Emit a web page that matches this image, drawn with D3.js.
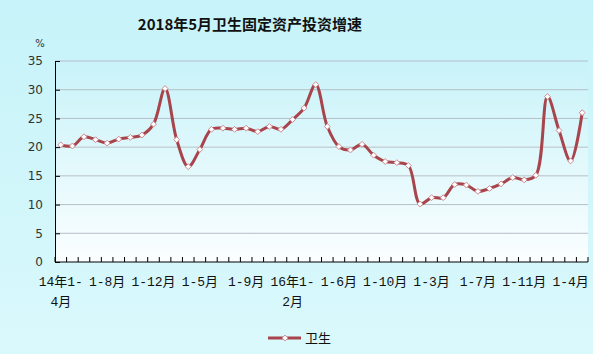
<!DOCTYPE html>
<html>
<head>
<meta charset="utf-8">
<script src="https://cdn.jsdelivr.net/npm/d3@7"></script>
<style>
  body { margin: 0; }
  svg { display: block; }
</style>
</head>
<body>
<div id="chart"></div>
<script>
const width = 593;
const height = 354;

const margin = { left: 55, right: 5, top: 61, bottom: 92 };

// 累计增速，2014年1-4月 到 2018年1-5月
const categories = [
    "2014年1-4月", "2014年1-5月", "2014年1-6月", "2014年1-7月", "2014年1-8月", "2014年1-9月",
    "2014年1-10月", "2014年1-11月", "2014年1-12月",
    "2015年1-2月", "2015年1-3月", "2015年1-4月", "2015年1-5月", "2015年1-6月", "2015年1-7月",
    "2015年1-8月", "2015年1-9月", "2015年1-10月", "2015年1-11月", "2015年1-12月",
    "2016年1-2月", "2016年1-3月", "2016年1-4月", "2016年1-5月", "2016年1-6月", "2016年1-7月",
    "2016年1-8月", "2016年1-9月", "2016年1-10月", "2016年1-11月", "2016年1-12月",
    "2017年1-2月", "2017年1-3月", "2017年1-4月", "2017年1-5月", "2017年1-6月", "2017年1-7月",
    "2017年1-8月", "2017年1-9月", "2017年1-10月", "2017年1-11月", "2017年1-12月",
    "2018年1-2月", "2018年1-3月", "2018年1-4月", "2018年1-5月"
];

const weisheng = [
    20.4, 20.2, 21.8, 21.3, 20.7, 21.4, 21.7, 22.1, 24.0,
    30.2, 21.3, 16.6, 19.6, 23.1, 23.3, 23.1, 23.3, 22.7, 23.6, 23.1,
    24.8, 26.8, 30.9, 23.6, 20.1, 19.5, 20.5, 18.6, 17.5, 17.3, 16.8,
    10.1, 11.2, 11.2, 13.5, 13.4, 12.3, 12.8, 13.6, 14.7, 14.3, 15.1,
    28.8, 22.9, 17.6, 26.0
];

// every 4th category gets a label
const xTickLabels = [
    ["14年1-", "4月"], ["1-8月"], ["1-12月"], ["1-5月"], ["1-9月"], ["16年1-", "2月"],
    ["1-6月"], ["1-10月"], ["1-3月"], ["1-7月"], ["1-11月"], ["1-4月"]
];

const yTicks = [0, 5, 10, 15, 20, 25, 30, 35];

const title = "2018年5月卫生固定资产投资增速";
const seriesName = "卫生";

const lineColor = "#a8444b";

let svg = d3.select("#chart")
    .append("svg")
    .attr("width", width)
    .attr("height", height);

let defs = svg.append("defs");

let bgGrad = defs.append("linearGradient")
    .attr("id", "bg").attr("x1", 0).attr("y1", 0).attr("x2", 0).attr("y2", 1);
bgGrad.append("stop").attr("offset", "0%").attr("stop-color", "#c6f3f9");
bgGrad.append("stop").attr("offset", "100%").attr("stop-color", "#daf9fc");

let plotGrad = defs.append("linearGradient")
    .attr("id", "plotbg").attr("x1", 0).attr("y1", 0).attr("x2", 0).attr("y2", 1);
plotGrad.append("stop").attr("offset", "0%").attr("stop-color", "#c8f3f9");
plotGrad.append("stop").attr("offset", "100%").attr("stop-color", "#fbfeff");

svg.append("rect")
    .attr("width", width).attr("height", height)
    .attr("fill", "url(#bg)");

let x = d3.scaleBand()
    .domain(categories)
    .range([margin.left, width - margin.right]);

let y = d3.scaleLinear()
    .domain([0, 35])
    .range([height - margin.bottom, margin.top]);

const cx = d => x(d) + x.bandwidth() / 2;

svg.append("rect")
    .attr("x", margin.left)
    .attr("y", margin.top)
    .attr("width", width - margin.right - margin.left)
    .attr("height", height - margin.bottom - margin.top)
    .attr("fill", "url(#plotbg)");

// grid
svg.selectAll(".grid")
    .data(yTicks.filter(d => d > 0))
    .join("line")
    .attr("class", "grid")
    .attr("x1", margin.left)
    .attr("x2", width - margin.right)
    .attr("y1", d => y(d))
    .attr("y2", d => y(d))
    .attr("stroke", "#b6bfc7")
    .attr("stroke-width", 1);

// y axis
let yAxis = svg.append("g")
    .attr("transform", `translate(${margin.left},0)`)
    .call(d3.axisLeft(y).tickValues(yTicks).tickSize(-5).tickPadding(12));
yAxis.select(".domain").attr("stroke", "#000");
yAxis.selectAll(".tick line").attr("stroke", "#000");
yAxis.selectAll("text")
    .attr("font-family", "'DejaVu Sans', sans-serif")
    .attr("font-size", 12)
    .attr("fill", "#333");

// x axis, ticks on category boundaries pointing inward
let xAxisG = svg.append("g");
xAxisG.append("line")
    .attr("x1", margin.left).attr("x2", width - margin.right)
    .attr("y1", y(0)).attr("y2", y(0))
    .attr("stroke", "#000");
xAxisG.selectAll(".xtick")
    .data(categories.map(c => x(c)).concat([x(categories[categories.length - 1]) + x.step()]))
    .join("line")
    .attr("class", "xtick")
    .attr("x1", d => d).attr("x2", d => d)
    .attr("y1", y(0)).attr("y2", y(0) - 5)
    .attr("stroke", "#000");

let xLabels = xAxisG.selectAll(".xlabel")
    .data(xTickLabels)
    .join("text")
    .attr("class", "xlabel")
    .attr("text-anchor", "middle")
    .attr("font-family", "'Liberation Mono', 'Noto Sans CJK SC', monospace")
    .attr("font-size", 13)
    .attr("fill", "#111");
xLabels.selectAll("tspan")
    .data((d, i) => d.map(t => ({ t: t, c: categories[i * 4] })))
    .join("tspan")
    .attr("x", d => cx(d.c))
    .attr("y", (d, j) => y(0) + 24 + j * 20)
    .text(d => d.t);

// % unit
svg.append("text")
    .attr("x", 40).attr("y", 47)
    .attr("text-anchor", "middle")
    .attr("font-family", "'DejaVu Sans', sans-serif")
    .attr("font-size", 10)
    .attr("fill", "#333")
    .text("%");

// title
svg.append("text")
    .attr("x", 250).attr("y", 30)
    .attr("text-anchor", "middle")
    .attr("font-family", "'Noto Sans CJK SC', sans-serif")
    .attr("font-weight", "bold")
    .attr("font-size", 15)
    .attr("fill", "#111")
    .text(title);

// line
let line = d3.line()
    .x((d, i) => cx(categories[i]))
    .y(d => y(d))
    .curve(d3.curveCatmullRom);

svg.append("path")
    .datum(weisheng)
    .attr("fill", "none")
    .attr("stroke", lineColor)
    .attr("stroke-width", 3)
    .attr("stroke-linejoin", "round")
    .attr("d", line);

const diamond = d3.symbol().type(d3.symbolDiamond2).size(22);

svg.selectAll(".pt")
    .data(weisheng)
    .join("path")
    .attr("class", "pt")
    .attr("transform", (d, i) => `translate(${cx(categories[i])},${y(d)})`)
    .attr("d", diamond)
    .attr("fill", "#fff")
    .attr("stroke", "#d08a90")
    .attr("stroke-width", 1);

// legend
let legend = svg.append("g").attr("transform", "translate(268,338)");
legend.append("line")
    .attr("x1", 0).attr("x2", 33)
    .attr("y1", 0).attr("y2", 0)
    .attr("stroke", lineColor)
    .attr("stroke-width", 3);
legend.append("path")
    .attr("transform", "translate(17,0)")
    .attr("d", diamond)
    .attr("fill", "#fff")
    .attr("stroke", "#d08a90");
legend.append("text")
    .attr("x", 37).attr("y", 5)
    .attr("font-family", "'Noto Sans CJK SC', sans-serif")
    .attr("font-size", 13)
    .attr("fill", "#111")
    .text(seriesName);
</script>
</body>
</html>
